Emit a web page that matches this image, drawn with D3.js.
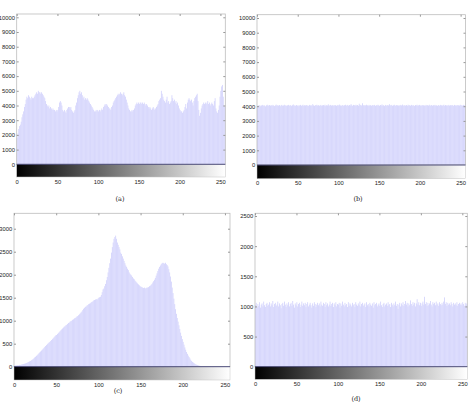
<!DOCTYPE html>
<html>
<head>
<meta charset="utf-8">
<script src="https://cdn.jsdelivr.net/npm/d3@7"></script>
<style>
  body { margin: 0; background: #fff; }
  svg { display: block; }
  .tick text { font-family: "Liberation Sans", Arial, sans-serif; font-size: 5.8px; fill: #222; }
  .caption { font-family: "DejaVu Serif", "Liberation Serif", serif; font-size: 6.5px; fill: #222; }
</style>
</head>
<body>
<svg id="chart" width="472" height="404"></svg>
<script>
// histogram counts, gray levels 0..255
const histA = [
  1800,2100,2400,2600,2700,2900,3200,3400,3600,3900,4100,4400,4600,4500,4700,4600,
  4500,4400,4600,4500,4500,4600,4700,4800,4900,4800,5000,4900,4900,4800,4900,4800,
  4700,4600,4500,4300,4100,4000,3900,4000,3800,3900,3800,3700,3800,3700,3700,3600,
  3700,3600,3700,3900,4200,4300,4200,4000,3700,3600,3700,3600,3500,3700,3800,3900,
  3900,3800,3900,3700,3600,3500,3600,3700,4000,4200,4500,4700,4900,5000,4800,4900,
  4700,4500,4600,4400,4500,4400,4500,4400,4300,4200,4100,4000,3900,3800,3700,3600,
  3600,3700,3600,3700,3600,3700,3600,3700,3800,3700,3900,4000,4100,4000,4100,4000,
  3900,3800,3800,3700,3900,4000,4200,4300,4400,4500,4600,4700,4800,4700,4800,4900,
  4800,4700,4800,4900,4700,4600,4400,4200,4000,3800,3700,3600,3600,3700,3600,3700,
  3800,4000,4100,4200,4100,4200,4100,4200,4200,4100,4200,4100,4200,4100,4000,4100,
  4000,3900,3800,3900,3800,3700,3800,3900,3800,3700,3800,3900,4000,4100,4300,4400,
  4500,5000,4800,4600,4400,4300,4200,4400,4600,4200,4300,4100,4200,4300,4700,4500,
  4300,4400,4200,4300,4100,4200,4000,3800,3700,3600,3600,3500,3600,3700,3900,4100,
  3800,4200,4400,4500,4400,4300,4400,4200,4000,4300,4500,4600,4700,4800,4300,3700,
  3300,3500,3800,4000,4100,4200,4100,4200,4100,4200,4300,4100,4200,4000,4100,4200,
  4100,4000,4300,4500,3800,3600,3500,3700,4000,4600,5000,5300,5400,4600,4000,3900
];
const histB = [
  4010,4060,4030,4080,4000,4050,4090,4020,4070,4040,3990,4060,4100,4030,4050,4080,
  4040,4070,4020,4090,4050,4010,4060,4110,4030,4070,4040,4080,4000,4060,4090,4030,
  4050,4100,4040,4070,4020,4060,4090,4050,4030,4080,4010,4070,4120,4040,4060,4030,
  4080,4050,4000,4070,4040,4090,4030,4060,4100,4020,4070,4050,4080,4040,4060,4010,
  4090,4050,4070,4030,4140,4060,4020,4080,4050,4100,4040,4070,4030,4060,4090,4020,
  4060,4080,4040,4100,4010,4070,4050,4130,4030,4060,4090,4040,4070,4020,4080,4050,
  4070,4030,4060,4090,4040,4110,4050,4020,4080,4060,4030,4070,4100,4040,4060,4090,
  4030,4080,4050,4140,4060,4020,4090,4070,4040,4100,4050,4080,4030,4170,4060,4090,
  4040,4200,4070,4030,4080,4050,4100,4060,4020,4090,4040,4070,4030,4080,4060,4050,
  4090,4020,4070,4040,4100,4060,4030,4080,4050,4120,4040,4070,4010,4090,4060,4030,
  4080,4050,4140,4070,4040,4090,4020,4060,4100,4050,4030,4080,4060,4040,4070,4020,
  4090,4050,4110,4030,4070,4060,4040,4080,4020,4100,4050,4070,4030,4090,4060,4040,
  4070,4010,4080,4050,4100,4030,4060,4090,4040,4070,4020,4080,4060,4050,4030,4090,
  4050,4070,4040,4100,4020,4060,4080,4030,4070,4050,4090,4040,4060,4020,4080,4050,
  4030,4090,4060,4040,4070,4100,4020,4080,4050,4060,4030,4090,4040,4070,4050,4080,
  4060,4020,4090,4050,4070,4030,4080,4060,4040,4100,4050,4070,4030,4090,4060,4040
];
const histC = [
  20,25,30,28,35,32,40,38,45,50,55,60,65,70,80,85,
  95,105,115,125,140,150,165,180,200,215,235,250,270,290,310,330,
  350,370,390,410,430,450,470,490,510,525,540,560,580,600,620,640,
  660,680,690,710,730,750,770,790,810,830,850,870,880,900,910,930,
  950,960,980,990,1000,1020,1030,1050,1060,1070,1090,1100,1120,1140,1160,1180,
  1200,1230,1260,1280,1300,1310,1330,1340,1360,1370,1380,1400,1410,1420,1440,1450,
  1460,1470,1460,1480,1500,1510,1520,1560,1620,1680,1700,1750,1800,1880,1950,2050,
  2150,2250,2350,2480,2600,2700,2780,2820,2850,2780,2700,2650,2600,2550,2480,2450,
  2400,2350,2300,2250,2200,2170,2130,2100,2050,2020,2000,1980,1950,1920,1900,1870,
  1850,1830,1810,1790,1770,1750,1740,1730,1720,1710,1720,1700,1710,1720,1720,1730,
  1750,1760,1780,1800,1830,1860,1890,1930,1980,2030,2080,2130,2170,2200,2230,2250,
  2260,2250,2240,2260,2230,2210,2180,2120,2050,1960,1850,1720,1600,1480,1360,1250,
  1150,1060,980,900,820,740,670,600,540,480,420,370,320,280,240,210,
  180,150,125,105,90,75,62,50,42,35,28,22,18,14,10,8,
  6,5,4,3,2,2,1,1,1,0,0,0,0,0,0,0,
  0,0,0,0,0,0,0,0,0,0,0,0,0,0,0,0
];
const histD = [
  1020,1060,990,1040,1010,1070,980,1030,1050,1000,1080,1020,990,1040,1060,1010,
  1030,1070,1000,1050,1020,1090,990,1040,1060,1010,1030,1080,1000,1050,1020,970,
  1040,1060,1010,1080,1030,990,1050,1020,1070,1000,1040,1060,1010,1090,1030,980,
  1050,1020,1070,1000,1040,1060,990,1030,1080,1010,1050,1020,1060,990,1040,1070,
  1000,1030,1060,1020,980,1050,1010,1070,1040,990,1030,1060,1020,1050,1000,1080,
  1030,1010,1060,1040,990,1070,1020,1050,1000,1030,1080,1010,1040,1060,990,1050,
  1020,1070,1000,1040,1030,1060,980,1050,1010,1080,1030,1000,1060,1020,1040,990,
  1070,1010,1050,1030,1000,1060,1020,1040,990,1070,1030,1010,1050,1020,1080,1000,
  1040,1060,1010,1030,1050,990,1070,1020,1040,1000,1060,1030,1010,1050,980,1070,
  1020,1040,1060,1000,1030,1050,1010,1080,1020,990,1040,1060,1000,1030,1050,1010,
  1070,1020,1040,990,1060,1030,1000,1050,1020,1080,1010,1040,960,1030,1060,1000,
  1050,1020,1070,1010,1040,1090,1030,1060,1000,1050,1020,1100,1040,1010,1070,1030,
  1060,1000,1050,1120,1030,1070,1020,1060,1010,1050,1080,1030,1160,1040,1070,1010,
  1060,1020,1050,1090,1030,1000,1070,1040,1060,1020,1080,1030,1050,1010,1070,1040,
  1020,1060,1030,1080,1150,1040,1070,1010,1060,1030,1050,1020,1070,1040,1000,1060,
  1030,1050,1020,1070,1010,1040,1060,1030,1050,1020,1070,1040,1010,1060,1030,1050
];

const xTicks = [0, 50, 100, 150, 200, 250];
const yTicksBig = [0, 1000, 2000, 3000, 4000, 5000, 6000, 7000, 8000, 9000, 10000];
const yTicksC = [0, 500, 1000, 1500, 2000, 2500, 3000];
const yTicksD = [0, 500, 1000, 1500, 2000, 2500];
const captions = ["(a)", "(b)", "(c)", "(d)"];

const svg = d3.select("#chart");

const defs = svg.append("defs");
const grad = defs.append("linearGradient").attr("id", "grayramp")
  .attr("x1", "0%").attr("x2", "100%").attr("y1", "0%").attr("y2", "0%");
grad.append("stop").attr("offset", "0%").attr("stop-color", "#000");
grad.append("stop").attr("offset", "100%").attr("stop-color", "#fff");

const panels = [
  {data: histA, yTicks: yTicksBig, ymax: 10225, left: 16.7, right: 225.3, top: 14, zero: 164.3, bottom: 177, capX: 120, capY: 201},
  {data: histB, yTicks: yTicksBig, ymax: 10225, left: 257, right: 465.5, top: 14.7, zero: 165, bottom: 178.7, capX: 358, capY: 201},
  {data: histC, yTicks: yTicksC, ymax: 3335, left: 14, right: 230, top: 213.3, zero: 366.7, bottom: 380, capX: 118, capY: 393},
  {data: histD, yTicks: yTicksD, ymax: 2545, left: 255, right: 467.3, top: 213.3, zero: 366.7, bottom: 379.3, capX: 356, capY: 401}
];

panels.forEach((p, k) => {
  const g = svg.append("g");
  const x = d3.scaleLinear().domain([0, 256]).range([p.left, p.right]);
  const y = d3.scaleLinear().domain([0, p.ymax]).range([p.zero, p.top]);
  const bw = x(1) - x(0);

  // bars (no outline: thin outlines alias into dark seams)
  g.append("g").selectAll("rect")
    .data(p.data)
    .join("rect")
    .attr("x", (d, i) => x(i))
    .attr("y", d => y(d))
    .attr("width", bw)
    .attr("height", d => y(0) - y(d))
    .attr("fill", "#d2d2fc");

  // frame
  g.append("rect")
    .attr("x", p.left).attr("y", p.top)
    .attr("width", p.right - p.left).attr("height", p.zero - p.top)
    .attr("fill", "none").attr("stroke", "#bdbdbd").attr("stroke-width", 0.8);

  // y axis left + right (inward ticks)
  g.append("g")
    .attr("transform", `translate(${p.left},0)`)
    .call(d3.axisLeft(y).tickValues(p.yTicks).tickSize(-2).tickPadding(1.8).tickFormat(d3.format("d")))
    .call(a => a.select(".domain").remove())
    .call(a => a.selectAll("line").attr("stroke", "#999"));
  g.append("g")
    .attr("transform", `translate(${p.right},0)`)
    .call(d3.axisRight(y).tickValues(p.yTicks.slice(1)).tickSize(-2).tickFormat(""))
    .call(a => a.select(".domain").remove())
    .call(a => a.selectAll("line").attr("stroke", "#999"));

  // top ticks
  g.append("g")
    .attr("transform", `translate(0,${p.top})`)
    .call(d3.axisTop(x).tickValues(xTicks).tickSize(-2).tickFormat(""))
    .call(a => a.select(".domain").remove())
    .call(a => a.selectAll("line").attr("stroke", "#999"));

  // gray ramp strip
  g.append("rect")
    .attr("x", p.left).attr("y", p.zero)
    .attr("width", p.right - p.left).attr("height", p.bottom - p.zero)
    .attr("fill", "url(#grayramp)")
    .attr("stroke", "#c4c4c4").attr("stroke-width", 0.5);

  // zero line
  g.append("line")
    .attr("x1", p.left).attr("x2", p.right)
    .attr("y1", y(0)).attr("y2", y(0))
    .attr("stroke", "#1a1a5a").attr("stroke-width", 0.7);

  // x axis labels under strip
  g.append("g")
    .attr("transform", `translate(0,${p.bottom})`)
    .call(d3.axisBottom(x).tickValues(xTicks).tickSize(0).tickPadding(2.5))
    .call(a => a.select(".domain").remove());

  g.append("text")
    .attr("class", "caption")
    .attr("x", p.capX).attr("y", p.capY)
    .attr("text-anchor", "middle")
    .text(captions[k]);
});
</script>
</body>
</html>
